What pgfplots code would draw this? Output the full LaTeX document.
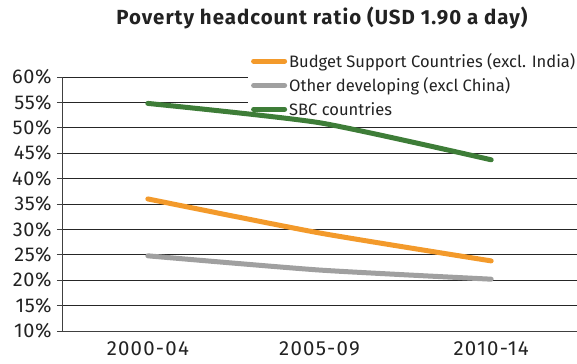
\documentclass[border=0pt]{standalone}
\usepackage{pgfplots}
\pgfplotsset{compat=1.18}
\usepackage{fontspec}
\setmainfont{Fira Sans}
\definecolor{cOrange}{HTML}{F39A2B}
\definecolor{cGray}{HTML}{A0A0A0}
\definecolor{cGreen}{HTML}{3E7D38}
\definecolor{cText}{HTML}{222222}
\begin{document}
\begin{tikzpicture}[x=1bp,y=1bp]
\useasboundingbox (-62,-32) rectangle (515,331);
\begin{axis}[
  at={(0,0)}, anchor=south west,
  scale only axis, width=515bp, height=254bp,
  xmin=0, xmax=3, ymin=10, ymax=60,
  axis x line*=bottom, axis y line*=left,
  axis line style={draw=black!75, line width=0.8pt},
  ytick={10,15,...,60},
  yticklabel={\pgfmathprintnumber{\tick}\%},
  xtick={0.5,1.5,2.5},
  xticklabels={2000-04,2005-09,2010-14},
  extra x ticks={0,1,2,3},
  extra x tick labels={},
  extra x tick style={major tick length=5bp, tick style={draw=black!75,line width=0.8pt}, grid=none},
  x tick style={draw=none},
  y tick style={draw=black!75, line width=0.8pt},
  major tick length=5bp,
  tick align=outside,
  ymajorgrids,
  major grid style={draw=black!85, line width=0.8pt},
  /pgf/number format/assume math mode=true,
  yticklabel style={font=\fontsize{20}{22}\selectfont\addfontfeatures{LetterSpace=3}, text=cText, xshift=-2bp},
  xticklabel style={font=\fontsize{20.5}{22}\selectfont\addfontfeatures{LetterSpace=6}, text=cText, yshift=-2bp},
  clip=false,
  legend style={at={(0.361,1.106)}, anchor=north west, draw=none, fill=none,
    font=\fontsize{16.6}{19}\selectfont, text=cText, row sep=5bp, inner xsep=3bp, inner ysep=1bp,
    cells={anchor=west}},
  legend cell align=left,
  legend image code/.code={\draw[#1, line cap=round] (0bp,0bp) -- (31bp,0bp);},
]
\fill[white] (axis cs:1.083,53) rectangle (axis cs:3.05,61);
\addplot[cOrange, line width=5bp, line cap=round, smooth, tension=0.35] coordinates {(0.5,36.0) (1.5,29.3) (2.5,23.8)};
\addlegendentry{Budget Support Countries (excl. India)}
\addplot[cGray, line width=5bp, line cap=round, smooth, tension=0.35] coordinates {(0.5,24.8) (1.5,22.0) (2.5,20.2)};
\addlegendentry{Other developing (excl China)}
\addplot[cGreen, line width=5bp, line cap=round, smooth, tension=0.35] coordinates {(0.5,54.8) (1.5,51.0) (2.5,43.7)};
\addlegendentry{SBC countries}
\end{axis}
\node[font=\bfseries\fontsize{20.5}{22}\selectfont\addfontfeatures{LetterSpace=5}, text=cText] at (260,313) {Poverty headcount ratio (USD 1.90 a day)};
\end{tikzpicture}
\end{document}
